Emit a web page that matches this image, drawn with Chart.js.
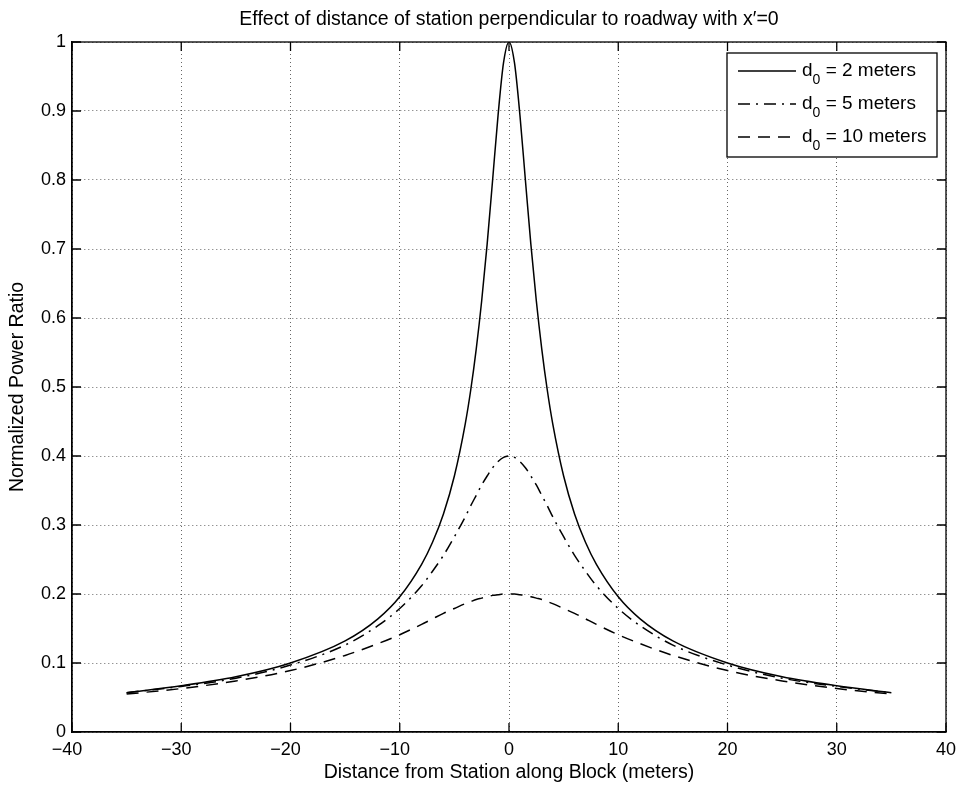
<!DOCTYPE html>
<html>
<head>
<meta charset="utf-8">
<script src="https://cdn.jsdelivr.net/npm/chart.js@4.4.1/dist/chart.umd.min.js"></script>
<style>
  html, body { margin: 0; padding: 0; background: #fff; }
</style>
</head>
<body>
<canvas id="powerChart" width="959" height="785"></canvas>
<script>
const FONT = '"Liberation Sans", Arial, Helvetica, sans-serif';

// distance along block (m)
const distances = [-35, -30, -25, -20, -15, -12, -10, -8, -7, -6, -5, -4, -3.5, -3, -2.5, -2, -1.5, -1, -0.5,
    0, 0.5, 1, 1.5, 2, 2.5, 3, 3.5, 4, 5, 6, 7, 8, 10, 12, 15, 20, 25, 30, 35];

// normalized power ratio
const ratioD2 = [0.057, 0.067, 0.080, 0.100, 0.132, 0.164, 0.196, 0.243, 0.275, 0.316, 0.371, 0.447, 0.496, 0.555, 0.625, 0.707, 0.800, 0.894, 0.970,
    1.000, 0.970, 0.894, 0.800, 0.707, 0.625, 0.555, 0.496, 0.447, 0.371, 0.316, 0.275, 0.243, 0.196, 0.164, 0.132, 0.100, 0.080, 0.067, 0.057];
const ratioD5 = [0.057, 0.066, 0.078, 0.097, 0.126, 0.154, 0.179, 0.212, 0.233, 0.256, 0.283, 0.312, 0.328, 0.343, 0.358, 0.371, 0.383, 0.392, 0.398,
    0.400, 0.398, 0.392, 0.383, 0.371, 0.358, 0.343, 0.328, 0.312, 0.283, 0.256, 0.233, 0.212, 0.179, 0.154, 0.126, 0.097, 0.078, 0.066, 0.057];
const ratioD10 = [0.055, 0.063, 0.074, 0.089, 0.111, 0.128, 0.141, 0.156, 0.164, 0.172, 0.179, 0.186, 0.189, 0.192, 0.194, 0.196, 0.198, 0.199, 0.200,
    0.200, 0.200, 0.199, 0.198, 0.196, 0.194, 0.192, 0.189, 0.186, 0.179, 0.172, 0.164, 0.156, 0.141, 0.128, 0.111, 0.089, 0.074, 0.063, 0.055];

const stationOffsets = [2, 5, 10];
const lineDashes = [[], [12, 6, 2, 6], [12, 8]];
const titleText = 'Effect of distance of station perpendicular to roadway with x\u2032=0';
const xLabel = 'Distance from Station along Block (meters)';
const yLabel = 'Normalized Power Ratio';

const TICK = 9;

function toPoints(values) {
    return values.map((v, i) => ({ x: distances[i], y: v }));
}

// MATLAB-style box, inward ticks and the legend with subscripts
const boxAndLegend = {
    id: 'boxAndLegend',
    afterDraw(chart) {
        const { ctx, chartArea: a, scales: { x, y } } = chart;
        ctx.save();
        ctx.setLineDash([]);
        ctx.strokeStyle = '#000';
        ctx.lineWidth = 1.3;
        ctx.strokeRect(a.left, a.top, a.right - a.left, a.bottom - a.top);
        ctx.beginPath();
        x.ticks.forEach(t => {
            const px = x.getPixelForValue(t.value);
            ctx.moveTo(px, a.bottom); ctx.lineTo(px, a.bottom - TICK);
            ctx.moveTo(px, a.top); ctx.lineTo(px, a.top + TICK);
        });
        y.ticks.forEach(t => {
            const py = y.getPixelForValue(t.value);
            ctx.moveTo(a.left, py); ctx.lineTo(a.left + TICK, py);
            ctx.moveTo(a.right, py); ctx.lineTo(a.right - TICK, py);
        });
        ctx.stroke();

        // legend
        const boxW = 210, boxH = 104;
        const bx = a.right - 9 - boxW;
        const by = a.top + 11;
        ctx.fillStyle = '#fff';
        ctx.fillRect(bx, by, boxW, boxH);
        ctx.strokeRect(bx, by, boxW, boxH);
        stationOffsets.forEach((d0, i) => {
            const rowY = by + 18 + i * 33;
            ctx.beginPath();
            ctx.setLineDash(lineDashes[i]);
            ctx.lineWidth = 1.5;
            ctx.moveTo(bx + 11, rowY);
            ctx.lineTo(bx + 69, rowY);
            ctx.stroke();
            ctx.setLineDash([]);
            ctx.fillStyle = '#000';
            ctx.textBaseline = 'alphabetic';
            ctx.textAlign = 'left';
            let tx = bx + 75;
            ctx.font = '19px ' + FONT;
            ctx.fillText('d', tx, rowY + 5);
            tx += ctx.measureText('d').width;
            ctx.font = '14px ' + FONT;
            ctx.fillText('0', tx, rowY + 13);
            tx += ctx.measureText('0').width;
            ctx.font = '19px ' + FONT;
            ctx.fillText(' = ' + d0 + ' meters', tx, rowY + 5);
        });
        ctx.restore();
    }
};

const datasets = [ratioD2, ratioD5, ratioD10].map((vals, i) => ({
    label: 'd0 = ' + stationOffsets[i] + ' meters',
    data: toPoints(vals),
    borderColor: '#000',
    borderWidth: 1.5,
    borderDash: lineDashes[i],
    pointRadius: 0,
    showLine: true,
    fill: false,
    cubicInterpolationMode: 'monotone'
}));

new Chart(document.getElementById('powerChart'), {
    type: 'scatter',
    data: { datasets },
    options: {
        responsive: false,
        animation: false,
        devicePixelRatio: 1,
        layout: { padding: { left: 0, right: 13, top: 0, bottom: 0 } },
        plugins: {
            legend: { display: false },
            tooltip: { enabled: false },
            title: {
                display: true,
                text: titleText,
                fullSize: false,
                color: '#000',
                font: { family: FONT, size: 19.5, weight: 'normal' },
                padding: { top: 8, bottom: 10.6 }
            }
        },
        scales: {
            x: {
                type: 'linear',
                min: -40,
                max: 40,
                afterFit: s => { s.height = 53; s.paddingRight = 0; s.paddingLeft = 0; },
                ticks: {
                    stepSize: 10,
                    color: '#000',
                    padding: 7,
                    maxRotation: 0,
                    font: { family: FONT, size: 18 },
                    // digits centred on the tick, minus sign hanging to the left
                    callback: v => v < 0 ? '\u2212' + Math.abs(v) + '  ' : String(v)
                },
                grid: { color: 'rgba(0,0,0,0.6)', lineWidth: 1, drawTicks: false },
                border: { display: true, color: '#000', width: 1.3, dash: [1, 3] },
                title: {
                    display: true,
                    text: xLabel,
                    color: '#000',
                    font: { family: FONT, size: 19.5 },
                    padding: { top: 0, bottom: 1 }
                }
            },
            y: {
                type: 'linear',
                min: 0,
                max: 1,
                afterFit: s => { s.width = 72; },
                ticks: {
                    stepSize: 0.1,
                    color: '#000',
                    padding: 6,
                    font: { family: FONT, size: 18 },
                    callback: v => String(Number(v.toFixed(1)))
                },
                grid: { color: 'rgba(0,0,0,0.6)', lineWidth: 1, drawTicks: false },
                border: { display: true, color: '#000', width: 1.3, dash: [1, 3] },
                title: {
                    display: true,
                    text: yLabel,
                    color: '#000',
                    font: { family: FONT, size: 19.5 },
                    padding: { top: 6, bottom: 0 }
                }
            }
        }
    },
    plugins: [boxAndLegend]
});
</script>
</body>
</html>
